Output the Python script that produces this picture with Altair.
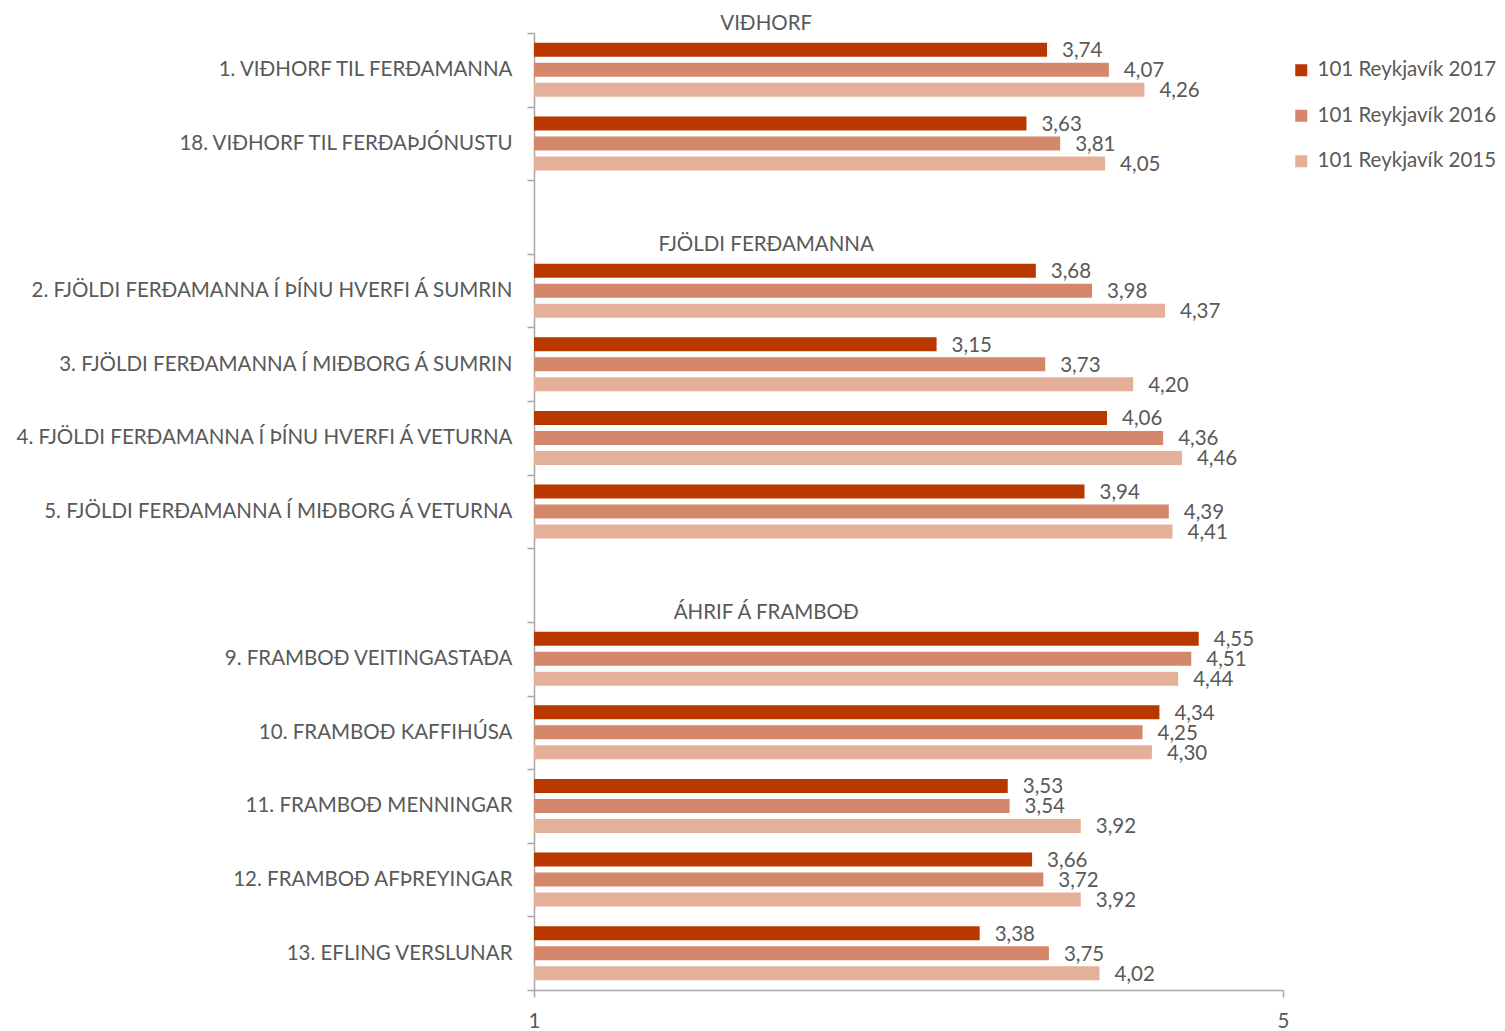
import altair as alt
import pandas as pd

categories = [
    "1. VIÐHORF TIL FERÐAMANNA",
    "18. VIÐHORF TIL FERÐAÞJÓNUSTU",
    "2. FJÖLDI FERÐAMANNA Í ÞÍNU HVERFI Á SUMRIN",
    "3. FJÖLDI FERÐAMANNA Í MIÐBORG Á SUMRIN",
    "4. FJÖLDI FERÐAMANNA Í ÞÍNU HVERFI Á VETURNA",
    "5. FJÖLDI FERÐAMANNA Í MIÐBORG Á VETURNA",
    "9. FRAMBOÐ VEITINGASTAÐA",
    "10. FRAMBOÐ KAFFIHÚSA",
    "11. FRAMBOÐ MENNINGAR",
    "12. FRAMBOÐ AFÞREYINGAR",
    "13. EFLING VERSLUNAR",
]
row_order = [
    categories[0], categories[1], "_blank1",
    categories[2], categories[3], categories[4], categories[5], "_blank2",
    categories[6], categories[7], categories[8], categories[9], categories[10],
]
series = ["101 Reykjavík 2017", "101 Reykjavík 2016", "101 Reykjavík 2015"]
values_2017 = [3.74, 3.63, 3.68, 3.15, 4.06, 3.94, 4.55, 4.34, 3.53, 3.66, 3.38]
values_2016 = [4.07, 3.81, 3.98, 3.73, 4.36, 4.39, 4.51, 4.25, 3.54, 3.72, 3.75]
values_2015 = [4.26, 4.05, 4.37, 4.20, 4.46, 4.41, 4.44, 4.30, 3.92, 3.92, 4.02]
colors = ["#B83800", "#D4876A", "#E4B09A"]

section_titles = ["VIÐHORF", "FJÖLDI FERÐAMANNA", "ÁHRIF Á FRAMBOÐ"]
section_first = [categories[0], categories[2], categories[6]]
section_x = [2.24, 2.24, 2.24]

rows = []
for s, vals in zip(series, [values_2017, values_2016, values_2015]):
    for c, v in zip(categories, vals):
        rows.append({"cat": c, "series": s, "value": v,
                     "lbl": f"{v:.2f}".replace(".", ",")})
df = pd.DataFrame(rows)
hdr = pd.DataFrame({"cat": section_first, "title": section_titles, "value": section_x})

FONT = "Lato"
TXT = "#595959"
AX = "#A6A6A6"
FS = 20.5

yscale = alt.Scale(domain=row_order, paddingInner=0, paddingOuter=0)
yaxis = alt.Axis(
    title=None, tickBand="extent", labelFontSize=FS, labelFont=FONT,
    labelColor=TXT, labelPadding=15, tickSize=7, tickColor=AX, domainColor=AX,
    domainWidth=1.5, tickWidth=1.5, labelLimit=700,
    labelExpr="(datum.value == null || indexof(datum.value, '_blank') == 0) ? '' : datum.value",
)
xscale = alt.Scale(domain=[1, 5], nice=False, zero=False)
xaxis = alt.Axis(
    title=None, values=[1, 5], grid=False, labelFontSize=FS, labelFont=FONT,
    labelColor=TXT, tickSize=7, tickColor=AX, domainColor=AX, domainWidth=1.5,
    tickWidth=1.5, labelPadding=14, format="d", labelFlush=False,
)
yoff = alt.YOffset("series:N",
                   scale=alt.Scale(domain=series, paddingInner=0.3, paddingOuter=0.49))

base = alt.Chart(df)

bars = base.mark_bar().encode(
    y=alt.Y("cat:N", scale=yscale, axis=yaxis),
    yOffset=yoff,
    x=alt.X("value:Q", scale=xscale, axis=xaxis),
    x2=alt.datum(1),
    color=alt.Color(
        "series:N",
        scale=alt.Scale(domain=series, range=colors),
        legend=alt.Legend(
            orient="none", legendX=757, legendY=27, title=None,
            symbolType="square", symbolSize=144, symbolStrokeWidth=0,
            labelFontSize=FS, labelFont=FONT, labelColor=TXT, labelLimit=300,
            rowPadding=24.5, padding=0, labelOffset=6,
        ),
    ),
)

labels = base.mark_text(align="left", baseline="middle", dx=15, dy=1.5, fontSize=FS,
                        font=FONT, color=TXT).encode(
    y=alt.Y("cat:N"),
    yOffset=yoff,
    x=alt.X("value:Q"),
    text="lbl:N",
)

headers = alt.Chart(hdr).mark_text(
    align="center", baseline="middle", dy=-46, fontSize=FS, font=FONT, color=TXT
).encode(
    y=alt.Y("cat:N"),
    x=alt.X("value:Q"),
    text="title:N",
)

chart = alt.layer(bars, labels, headers).properties(
    width=749, height=957,
    autosize=alt.AutoSizeParams(type="none"),
    padding={"left": 526, "top": 25, "right": 214, "bottom": 45},
).configure_view(stroke=None)

chart.save("out.html", embed_options={"renderer": "svg", "actions": False})
